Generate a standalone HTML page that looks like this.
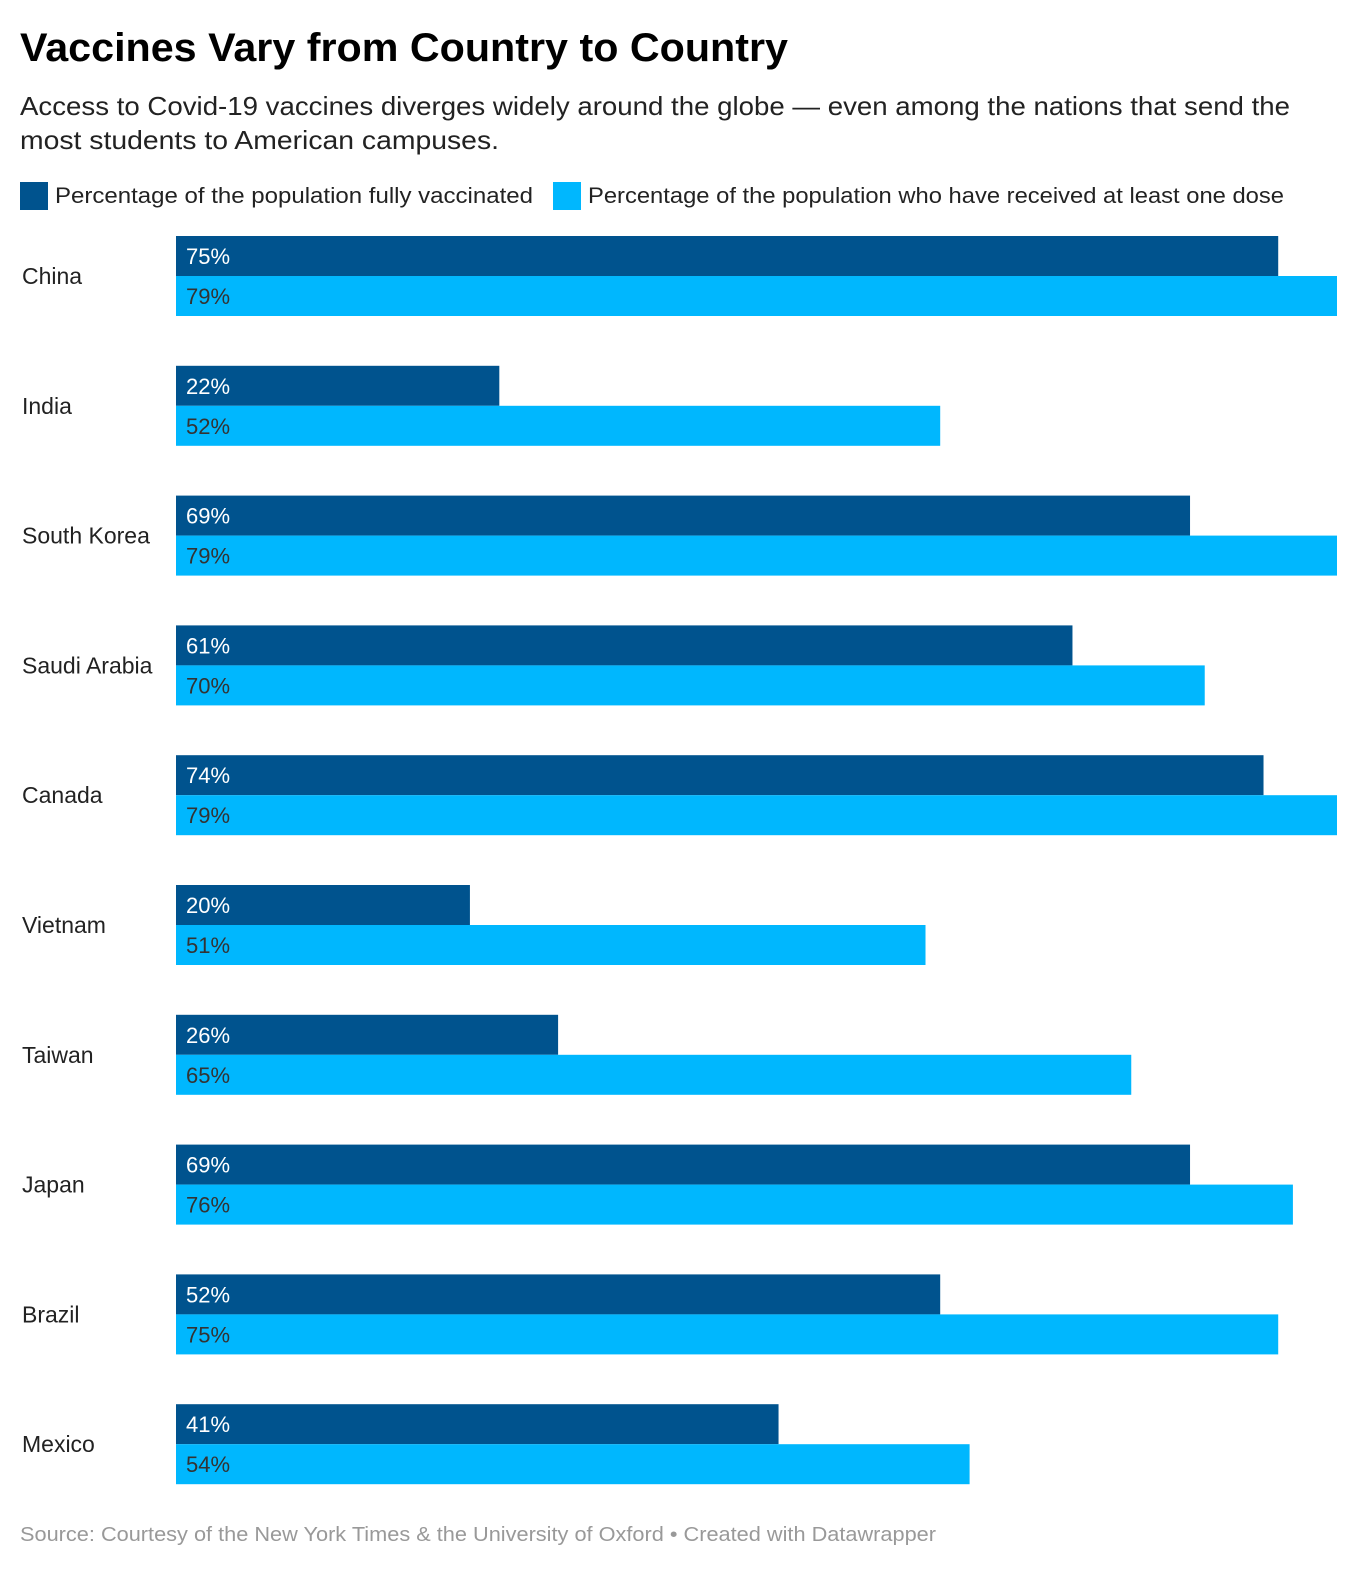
<!DOCTYPE html>
<html><head><meta charset="utf-8"><style>
html,body{margin:0;padding:0;overflow:hidden;}
body{background:#fff;width:1362px;height:1572px;font-family:"Liberation Sans",sans-serif;}
svg{display:block;}
</style></head><body>
<svg width="1362" height="1572" xmlns="http://www.w3.org/2000/svg" font-family="Liberation Sans, sans-serif">
<text x="20" y="61" font-size="40" font-weight="bold" fill="#000" textLength="768" lengthAdjust="spacingAndGlyphs">Vaccines Vary from Country to Country</text>
<text x="20" y="115" font-size="26" fill="#222" textLength="1270" lengthAdjust="spacingAndGlyphs">Access to Covid-19 vaccines diverges widely around the globe — even among the nations that send the</text>
<text x="20" y="149" font-size="26" fill="#222" textLength="479" lengthAdjust="spacingAndGlyphs">most students to American campuses.</text>
<g>
<rect x="20" y="182" width="28" height="28" fill="#00538e"/>
<text x="55" y="203" font-size="22" fill="#222" textLength="478" lengthAdjust="spacingAndGlyphs">Percentage of the population fully vaccinated</text>
<rect x="553" y="182" width="28" height="28" fill="#00b7fe"/>
<text x="588" y="203" font-size="22" fill="#222" textLength="696" lengthAdjust="spacingAndGlyphs">Percentage of the population who have received at least one dose</text>
</g>
<g id="bars"></g>
<text x="20" y="1541" font-size="20" fill="#999" textLength="916" lengthAdjust="spacingAndGlyphs">Source: Courtesy of the New York Times &amp; the University of Oxford • Created with Datawrapper</text>
</svg>
<script>
const countries=["China","India","South Korea","Saudi Arabia","Canada","Vietnam","Taiwan","Japan","Brazil","Mexico"];
const fully=[75,22,69,61,74,20,26,69,52,41];
const oneDose=[79,52,79,70,79,51,65,76,75,54];
const x0=176, xMax=1337, vMax=79, top0=236, rowStep=129.8, barH=40;
const xs=v=>x0+(xMax-x0)*v/vMax;
const g=document.getElementById('bars');
const NS="http://www.w3.org/2000/svg";
function mk(tag,attrs){const e=document.createElementNS(NS,tag);for(const k in attrs)e.setAttribute(k,attrs[k]);return e;}
countries.forEach((c,i)=>{
  const y=top0+i*rowStep;
  const lab=mk('text',{x:22,y:y+barH+8,'font-size':23,fill:'#222'});
  lab.textContent=c;
  
  
  g.appendChild(lab);
  [[fully[i],'#00538e','#fff','bar-fully'],[oneDose[i],'#00b7fe','#333','bar-one-dose']].forEach((s,j)=>{
    const yy=y+j*barH;
    const r=mk('rect',{x:x0,y:yy,width:xs(s[0])-x0,height:barH,fill:s[1]});
    
    
    g.appendChild(r);
    const t=mk('text',{x:x0+10,y:yy+28,'font-size':22,fill:s[2]});
    t.textContent=s[0]+'%';
    
    
    g.appendChild(t);
  });
});
</script>
</body></html>
